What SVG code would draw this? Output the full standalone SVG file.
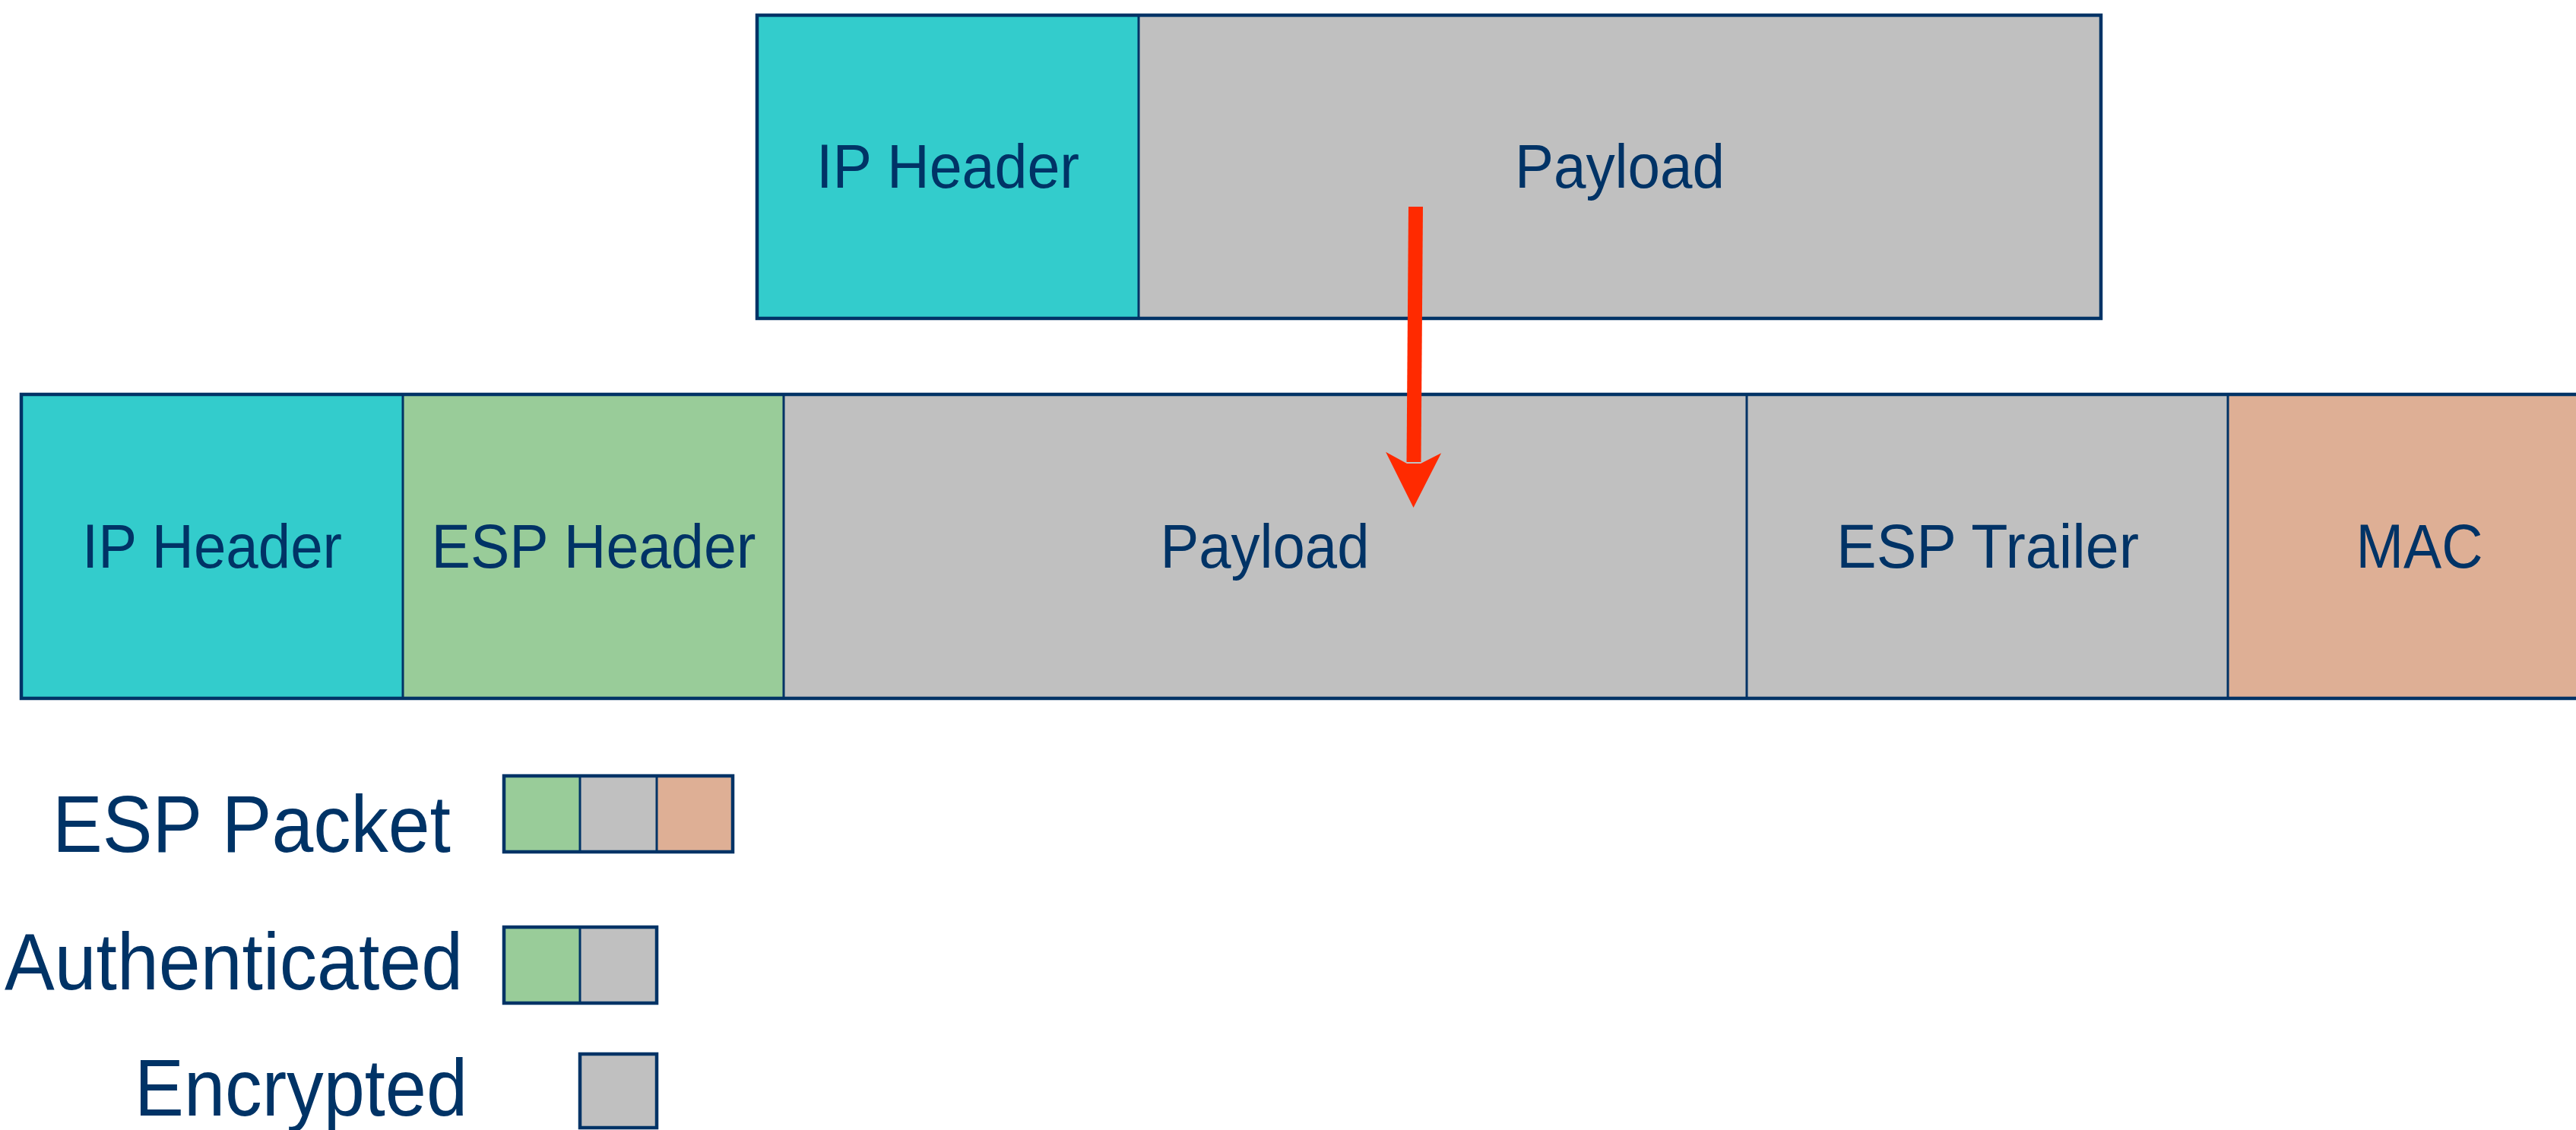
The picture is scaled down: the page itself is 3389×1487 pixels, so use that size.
<svg xmlns="http://www.w3.org/2000/svg" width="3389" height="1487" viewBox="0 0 3389 1487">
  <defs>
    <style>
      .lbl { font-family: "Liberation Sans", Arial, sans-serif; fill: #003366; }
      .cell { font-size: 82px; text-anchor: middle; }
      .leg { font-size: 106px; }
      .ip { fill: #33cccc; }
      .esp { fill: #99cc99; }
      .data { fill: #c0c0c0; }
      .mac { fill: #deaf95; }
      .frame { fill: none; stroke: #003366; stroke-width: 4.5; }
      .div { stroke: #003366; stroke-width: 3; }
      .arrow { stroke: #ff2a00; stroke-width: 19; fill: none; }
    </style>
    <marker id="head" markerUnits="userSpaceOnUse" orient="auto" refX="0" refY="0" markerWidth="200" markerHeight="200" overflow="visible">
      <path d="M60,0 L-13,37 L2,9 L2,-9 L-12,-36 Z" fill="#ff2a00"/>
    </marker>
  </defs>

  <rect width="3389" height="1487" fill="#ffffff"/>

  <!-- original IP packet -->
  <g id="ip-packet">
    <g id="ip-header-1">
      <rect class="ip" x="996" y="20" width="502" height="399"/>
      <text class="lbl cell" x="1247" y="247" textLength="346" lengthAdjust="spacingAndGlyphs">IP Header</text>
    </g>
    <g id="payload-1">
      <rect class="data" x="1498" y="20" width="1266" height="399"/>
      <text class="lbl cell" x="2131" y="247" textLength="276" lengthAdjust="spacingAndGlyphs">Payload</text>
    </g>
    <line class="div" x1="1498" y1="20" x2="1498" y2="419"/>
    <rect class="frame" x="996" y="20" width="1768" height="399"/>
  </g>

  <!-- ESP packet -->
  <g id="esp-packet">
    <g id="ip-header-2">
      <rect class="ip" x="28" y="519" width="502" height="400"/>
      <text class="lbl cell" x="279" y="747" textLength="342" lengthAdjust="spacingAndGlyphs">IP Header</text>
    </g>
    <g id="esp-header">
      <rect class="esp" x="530" y="519" width="501" height="400"/>
      <text class="lbl cell" x="781" y="747" textLength="427" lengthAdjust="spacingAndGlyphs">ESP Header</text>
    </g>
    <g id="payload-2">
      <rect class="data" x="1031" y="519" width="1267" height="400"/>
      <text class="lbl cell" x="1664" y="747" textLength="275" lengthAdjust="spacingAndGlyphs">Payload</text>
    </g>
    <g id="esp-trailer">
      <rect class="data" x="2298" y="519" width="633" height="400"/>
      <text class="lbl cell" x="2615" y="747" textLength="398" lengthAdjust="spacingAndGlyphs">ESP Trailer</text>
    </g>
    <g id="mac">
      <rect class="mac" x="2931" y="519" width="510" height="400"/>
      <text class="lbl cell" x="3183" y="747" textLength="167" lengthAdjust="spacingAndGlyphs">MAC</text>
    </g>
    <line class="div" x1="530" y1="519" x2="530" y2="919"/>
    <line class="div" x1="1031" y1="519" x2="1031" y2="919"/>
    <line class="div" x1="2298" y1="519" x2="2298" y2="919"/>
    <line class="div" x1="2931" y1="519" x2="2931" y2="919"/>
    <rect class="frame" x="28" y="519" width="3420" height="400"/>
  </g>

  <!-- connectors -->
  <g id="connectors">
    <line class="arrow" x1="1862.5" y1="272" x2="1860" y2="608" marker-end="url(#head)"/>
  </g>

  <!-- legend -->
  <g id="legend-esp-packet">
    <text class="lbl leg" x="69" y="1121" textLength="524" lengthAdjust="spacingAndGlyphs">ESP Packet</text>
    <rect class="esp" x="663" y="1021" width="100" height="100"/>
    <rect class="data" x="763" y="1021" width="101" height="100"/>
    <rect class="mac" x="864" y="1021" width="100" height="100"/>
    <line class="div" x1="763" y1="1021" x2="763" y2="1121"/>
    <line class="div" x1="864" y1="1021" x2="864" y2="1121"/>
    <rect class="frame" x="663" y="1021" width="301" height="100"/>
  </g>
  <g id="legend-authenticated">
    <text class="lbl leg" x="6" y="1302" textLength="603" lengthAdjust="spacingAndGlyphs">Authenticated</text>
    <rect class="esp" x="663" y="1220" width="100" height="100"/>
    <rect class="data" x="763" y="1220" width="101" height="100"/>
    <line class="div" x1="763" y1="1220" x2="763" y2="1320"/>
    <rect class="frame" x="663" y="1220" width="201" height="100"/>
  </g>
  <g id="legend-encrypted">
    <text class="lbl leg" x="177" y="1468" textLength="438" lengthAdjust="spacingAndGlyphs">Encrypted</text>
    <rect class="data" x="763" y="1387" width="101" height="97"/>
    <rect class="frame" x="763" y="1387" width="101" height="97"/>
  </g>
</svg>
